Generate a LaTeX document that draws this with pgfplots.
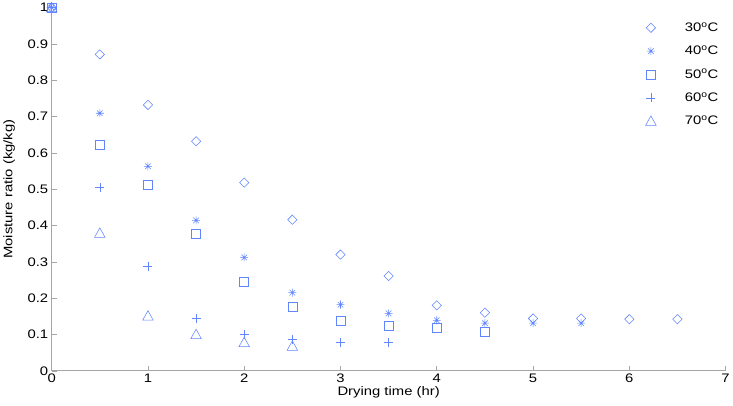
\documentclass[border=0pt]{standalone}
\usepackage{fontspec}
\setmainfont[FakeStretch=1.2]{Liberation Sans}
\usepackage{pgfplots}
\pgfplotsset{compat=1.18}

\definecolor{mkblue}{rgb}{0.38,0.52,1.0}

% MATLAB-like markers
\pgfdeclareplotmark{mdiamond}{%
  \pgfpathmoveto{\pgfqpoint{0pt}{\pgfplotmarksize}}%
  \pgfpathlineto{\pgfqpoint{\pgfplotmarksize}{0pt}}%
  \pgfpathlineto{\pgfqpoint{0pt}{-\pgfplotmarksize}}%
  \pgfpathlineto{\pgfqpoint{-\pgfplotmarksize}{0pt}}%
  \pgfpathclose\pgfusepathqstroke}
\pgfdeclareplotmark{mast}{%
  \pgfpathmoveto{\pgfqpoint{-\pgfplotmarksize}{0pt}}\pgfpathlineto{\pgfqpoint{\pgfplotmarksize}{0pt}}%
  \pgfpathmoveto{\pgfqpoint{0pt}{-\pgfplotmarksize}}\pgfpathlineto{\pgfqpoint{0pt}{\pgfplotmarksize}}%
  \pgfpathmoveto{\pgfqpoint{-.7\pgfplotmarksize}{-.7\pgfplotmarksize}}\pgfpathlineto{\pgfqpoint{.7\pgfplotmarksize}{.7\pgfplotmarksize}}%
  \pgfpathmoveto{\pgfqpoint{-.7\pgfplotmarksize}{.7\pgfplotmarksize}}\pgfpathlineto{\pgfqpoint{.7\pgfplotmarksize}{-.7\pgfplotmarksize}}%
  \pgfusepathqstroke}
\pgfdeclareplotmark{mtri}{%
  \pgfpathmoveto{\pgfqpoint{0pt}{\pgfplotmarksize}}%
  \pgfpathlineto{\pgfqpoint{\pgfplotmarksize}{-.8\pgfplotmarksize}}%
  \pgfpathlineto{\pgfqpoint{-\pgfplotmarksize}{-.8\pgfplotmarksize}}%
  \pgfpathclose\pgfusepathqstroke}

\pgfplotsset{
  mk/.style={only marks, draw=mkblue, line width=0.55bp},
}

\begin{document}
\begin{tikzpicture}
  \begin{axis}[
    scale only axis,
    width=679bp,
    height=366bp,
    xmin=0, xmax=7,
    ymin=0, ymax=1,
    xtick={0,1,...,7},
    ytick={0,0.1,...,1},
    yticklabels={0,0.1,0.2,0.3,0.4,0.5,0.6,0.7,0.8,0.9,1},
    axis x line=bottom,
    axis y line=left,
    axis line style={-,draw=black!35,line width=0.8bp},
    tick style={draw=black!35,line width=0.6bp},
    tick align=inside,
    major tick length=5bp,
    /pgf/number format/assume math mode=true,
    ticklabel style={font=\fontsize{12.5}{14}\selectfont},
    label style={font=\fontsize{12.5}{14}\selectfont},
    xlabel={Drying time (hr)},
    ylabel={Moisture ratio (kg/kg)},
    xlabel style={yshift=3bp},
    ylabel style={yshift=6bp},
    clip=false,
    legend style={draw=none, fill=none, at={(rel axis cs:0.997,0.97)}, anchor=north east,
      font=\fontsize{12.5}{14}\selectfont, row sep=9bp,
      /tikz/every odd column/.append style={column sep=27bp}},
    legend cell align=left,
  ]
    \addplot[mk, mark=mdiamond, mark size=4.7bp] coordinates {
      (0,1) (0.5,0.871) (1,0.732) (1.5,0.632) (2,0.518) (2.5,0.416) (3,0.320)
      (3.5,0.261) (4,0.180) (4.5,0.160) (5,0.144) (5.5,0.144) (6,0.142) (6.5,0.142)
    };
    \addlegendentry{30\textsuperscript{o}C}
    \addplot[mk, mark=mast, mark size=4bp] coordinates {
      (0,1) (0.5,0.709) (1,0.563) (1.5,0.414) (2,0.312) (2.5,0.215) (3,0.182)
      (3.5,0.158) (4,0.139) (4.5,0.131) (5,0.131) (5.5,0.131)
    };
    \addlegendentry{40\textsuperscript{o}C}
    \addplot[mk, mark=square, mark size=4.5bp] coordinates {
      (0,1) (0.5,0.622) (1,0.511) (1.5,0.377) (2,0.244) (2.5,0.176) (3,0.139)
      (3.5,0.125) (4,0.119) (4.5,0.108)
    };
    \addlegendentry{50\textsuperscript{o}C}
    \addplot[mk, mark=+, mark size=4.5bp] coordinates {
      (0,1) (0.5,0.504) (1,0.288) (1.5,0.144) (2,0.101) (2.5,0.087) (3,0.079)
      (3.5,0.079)
    };
    \addlegendentry{60\textsuperscript{o}C}
    \addplot[mk, mark=mtri, mark size=5.3bp] coordinates {
      (0,1) (0.5,0.379) (1,0.151) (1.5,0.100) (2,0.078) (2.5,0.068)
    };
    \addlegendentry{70\textsuperscript{o}C}
  \end{axis}
  \path (current axis.outer south) ++(0,-4bp);
\end{tikzpicture}
\end{document}
